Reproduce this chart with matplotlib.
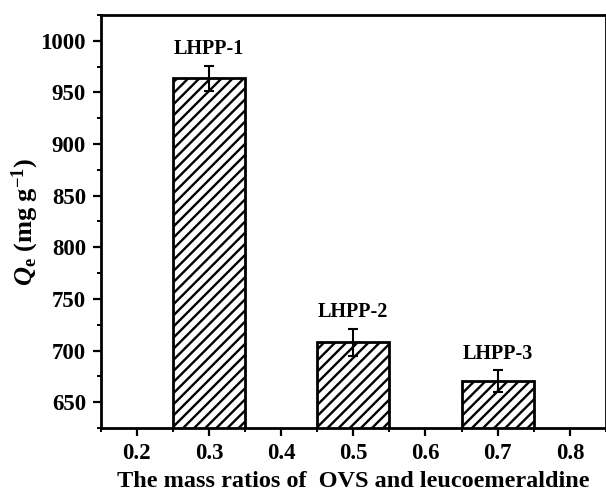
import matplotlib
matplotlib.use('Agg')
import matplotlib.pyplot as plt
from matplotlib.ticker import MultipleLocator

# data
ratios = [0.3, 0.5, 0.7]
qe = [963.5, 708.0, 670.5]
qe_err = [12.0, 13.0, 10.5]
names = ['LHPP-1', 'LHPP-2', 'LHPP-3']

plt.rcParams['font.family'] = ['Liberation Serif', 'DejaVu Serif']
plt.rcParams['font.weight'] = 'bold'
plt.rcParams['mathtext.fontset'] = 'custom'
plt.rcParams['mathtext.rm'] = 'Liberation Serif:bold'
plt.rcParams['mathtext.it'] = 'Liberation Serif:italic:bold'
plt.rcParams['mathtext.bf'] = 'Liberation Serif:bold'
plt.rcParams['hatch.linewidth'] = 1.7

fig = plt.figure(figsize=(6.06, 4.96), dpi=100)
ax = fig.add_axes([0.166, 0.137, 0.834, 0.833])

ax.bar(ratios, qe, width=0.1, color='white', edgecolor='black',
       linewidth=2.0, hatch='///', zorder=2)
ax.errorbar(ratios, qe, yerr=qe_err, fmt='none', ecolor='black',
            elinewidth=1.5, capsize=3.5, capthick=1.5, zorder=3)

for x, y, e, n in zip(ratios, qe, qe_err, names):
    ax.text(x, y + e + 16, n, ha='center', va='center',
            fontsize=14.5, fontweight='bold')

ax.set_xlim(0.15, 0.85)
ax.set_ylim(625, 1025)
ax.xaxis.set_minor_locator(MultipleLocator(0.05))
ax.yaxis.set_major_locator(MultipleLocator(50))
ax.yaxis.set_minor_locator(MultipleLocator(25))
ax.set_xticks([0.2, 0.3, 0.4, 0.5, 0.6, 0.7, 0.8])
ax.set_xticklabels(['0.2', '0.3', '0.4', '0.5', '0.6', '0.7', '0.8'])

ax.tick_params(which='major', direction='out', length=5.5, width=1.6,
               labelsize=16.5, pad=5)
ax.tick_params(which='minor', direction='out', length=3, width=1.4)
for lab in ax.get_xticklabels() + ax.get_yticklabels():
    lab.set_fontweight('bold')

for s in ax.spines.values():
    s.set_linewidth(2.0)

ax.set_xlabel('The mass ratios of  OVS and leucoemeraldine',
              fontsize=17.5, fontweight='bold', labelpad=5)
ax.set_ylabel(r'$Q_\mathrm{e}$ (mg g$^{-1}$)', fontsize=19,
              fontweight='bold')
ax.yaxis.set_label_coords(-0.118, 0.5)

fig.savefig('out.png', dpi=100)
